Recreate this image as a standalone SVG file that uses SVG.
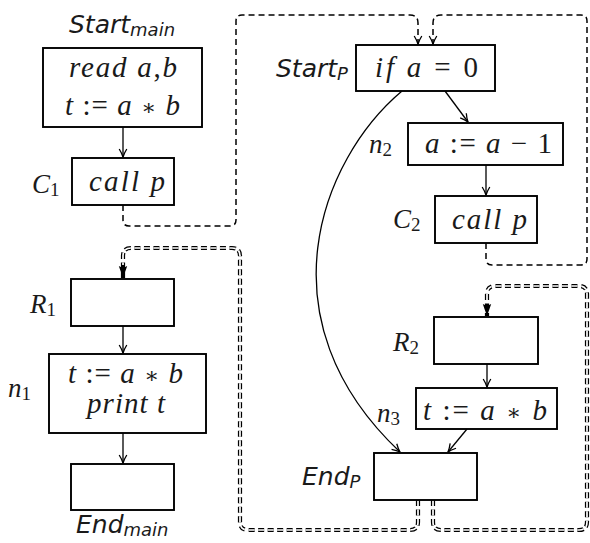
<svg xmlns="http://www.w3.org/2000/svg" width="590" height="543" viewBox="0 0 590 543">
<defs>
<style>
.box{fill:#fff;stroke:#000;stroke-width:1.9}
.m{font-family:"Liberation Serif","DejaVu Serif",serif;font-size:29px;font-style:italic;fill:#1a1a1a}
.u{font-style:normal}
.st{font-style:normal;font-size:22px}
.lab{font-family:"Liberation Serif","DejaVu Serif",serif;font-size:27px;font-style:italic;fill:#1a1a1a}
.s{font-family:"DejaVu Sans","Liberation Sans",sans-serif;font-size:25px;font-style:oblique;fill:#1a1a1a}
.sub{font-size:18px}
.sb{font-size:19px;font-style:normal}
.edge{fill:none;stroke:#000;stroke-width:1.3}
.dash{fill:none;stroke:#000;stroke-width:1.5;stroke-dasharray:6 4}
.dbl{fill:none;stroke:#000;stroke-width:4.2;stroke-dasharray:6 3.5}
.dblw{fill:none;stroke:#fff;stroke-width:1.7;stroke-dasharray:6 3.5}
</style>
<marker id="arr" markerUnits="userSpaceOnUse" viewBox="0 0 10 10" markerWidth="10" markerHeight="10" refX="9.5" refY="5" orient="auto">
<path d="M1.5,1.2 Q6,4 9.5,5 Q6,6 1.5,8.8" fill="none" stroke="#000" stroke-width="1.3"/>
</marker>
<marker id="big" markerUnits="userSpaceOnUse" viewBox="0 0 12 10" markerWidth="12" markerHeight="10" refX="12" refY="5" orient="auto">
<path d="M0,0.8 L12,5 L0,9.2 L2,5 Z" fill="#000"/>
</marker>
</defs>

<g id="connectors">
<line class="edge" x1="123" y1="127" x2="123" y2="157" marker-end="url(#arr)"/>
<line class="edge" x1="123" y1="326" x2="123" y2="353" marker-end="url(#arr)"/>
<line class="edge" x1="123" y1="433" x2="123" y2="463" marker-end="url(#arr)"/>
<line class="edge" x1="445" y1="91" x2="468" y2="122" marker-end="url(#arr)"/>
<line class="edge" x1="486" y1="165" x2="486" y2="195" marker-end="url(#arr)"/>
<line class="edge" x1="487" y1="364" x2="487" y2="387" marker-end="url(#arr)"/>
<line class="edge" x1="467" y1="429" x2="448" y2="452" marker-end="url(#arr)"/>
<path class="edge" d="M402,91 C320,160 260,320 400,452" marker-end="url(#arr)"/>
<path class="dash" d="M123,205 L123,220 Q123,226 129,226 L230,226 Q236,226 236,220 L236,21 Q236,15 242,15 L410,15 Q418,15 418,23 L418,44" marker-end="url(#arr)"/>
<path class="dash" d="M486,243 L486,259 Q486,265 492,265 L581,265 Q587,265 587,259 L587,21 Q587,15 581,15 L441,15 Q433,15 433,23 L433,44" marker-end="url(#arr)"/>
<path class="dbl" d="M418,500 L418,522 Q418,530 410,530 L248,530 Q240,530 240,522 L240,256 Q240,248 232,248 L131,248 Q123,248 123,256 L123,278" marker-end="url(#big)"/>
<path class="dblw" d="M418,500 L418,522 Q418,530 410,530 L248,530 Q240,530 240,522 L240,256 Q240,248 232,248 L131,248 Q123,248 123,256 L123,265"/>
<path class="dbl" d="M433,500 L433,522 Q433,530 441,530 L579,530 Q587,530 587,522 L587,294 Q587,286 579,286 L495,286 Q487,286 487,294 L487,316" marker-end="url(#big)"/>
<path class="dblw" d="M433,500 L433,522 Q433,530 441,530 L579,530 Q587,530 587,522 L587,294 Q587,286 579,286 L495,286 Q487,286 487,294 L487,303"/>
</g>

<g id="start_main">
<text class="s" x="69" y="33">Start<tspan class="sub" dy="3">main</tspan></text>
<rect class="box" x="43" y="48" width="159" height="79"/>
<text class="m" x="69" y="77" textLength="108" lengthAdjust="spacing">read a<tspan class="u">,</tspan>b</text>
<text class="m" x="65" y="115" textLength="115" lengthAdjust="spacing">t <tspan class="u">:= </tspan>a <tspan class="st">∗</tspan> b</text>
</g>

<g id="c1">
<text class="lab" x="32" y="193">C<tspan class="sb" dy="3">1</tspan></text>
<rect class="box" x="72" y="158" width="102" height="47"/>
<text class="m" x="89" y="191" textLength="76" lengthAdjust="spacing">call p</text>
</g>

<g id="r1">
<text class="lab" x="30" y="313">R<tspan class="sb" dy="3">1</tspan></text>
<rect class="box" x="71" y="279" width="103" height="47"/>
</g>

<g id="n1">
<text class="lab" x="8" y="397">n<tspan class="sb" dy="3">1</tspan></text>
<rect class="box" x="49" y="354" width="157" height="79"/>
<text class="m" x="68" y="383" textLength="115" lengthAdjust="spacing">t <tspan class="u">:= </tspan>a <tspan class="st">∗</tspan> b</text>
<text class="m" x="87" y="413" textLength="78" lengthAdjust="spacing">print t</text>
</g>

<g id="end_main">
<rect class="box" x="71" y="464" width="103" height="46"/>
<text class="s" x="76" y="533">End<tspan class="sub" dy="3">main</tspan></text>
</g>

<g id="start_p">
<text class="s" x="276" y="77">Start<tspan class="sub" dy="3">P</tspan></text>
<rect class="box" x="356" y="45" width="139" height="46"/>
<text class="m" x="375" y="77" textLength="103" lengthAdjust="spacing">if a <tspan class="u">= 0</tspan></text>
</g>

<g id="n2">
<text class="lab" x="369" y="153">n<tspan class="sb" dy="3">2</tspan></text>
<rect class="box" x="408" y="123" width="155" height="42"/>
<text class="m" x="425" y="153" textLength="127" lengthAdjust="spacing">a <tspan class="u">:= </tspan>a <tspan class="u">− 1</tspan></text>
</g>

<g id="c2">
<text class="lab" x="393" y="228">C<tspan class="sb" dy="3">2</tspan></text>
<rect class="box" x="435" y="196" width="102" height="47"/>
<text class="m" x="452" y="229" textLength="75" lengthAdjust="spacing">call p</text>
</g>

<g id="r2">
<text class="lab" x="393" y="351">R<tspan class="sb" dy="3">2</tspan></text>
<rect class="box" x="434" y="317" width="104" height="47"/>
</g>

<g id="n3">
<text class="lab" x="377" y="422">n<tspan class="sb" dy="3">3</tspan></text>
<rect class="box" x="416" y="388" width="141" height="41"/>
<text class="m" x="423" y="420" textLength="124" lengthAdjust="spacing">t <tspan class="u">:= </tspan>a <tspan class="st">∗</tspan> b</text>
</g>

<g id="end_p">
<text class="s" x="302" y="485">End<tspan class="sub" dy="3">P</tspan></text>
<rect class="box" x="374" y="453" width="103" height="47"/>
</g>
</svg>
